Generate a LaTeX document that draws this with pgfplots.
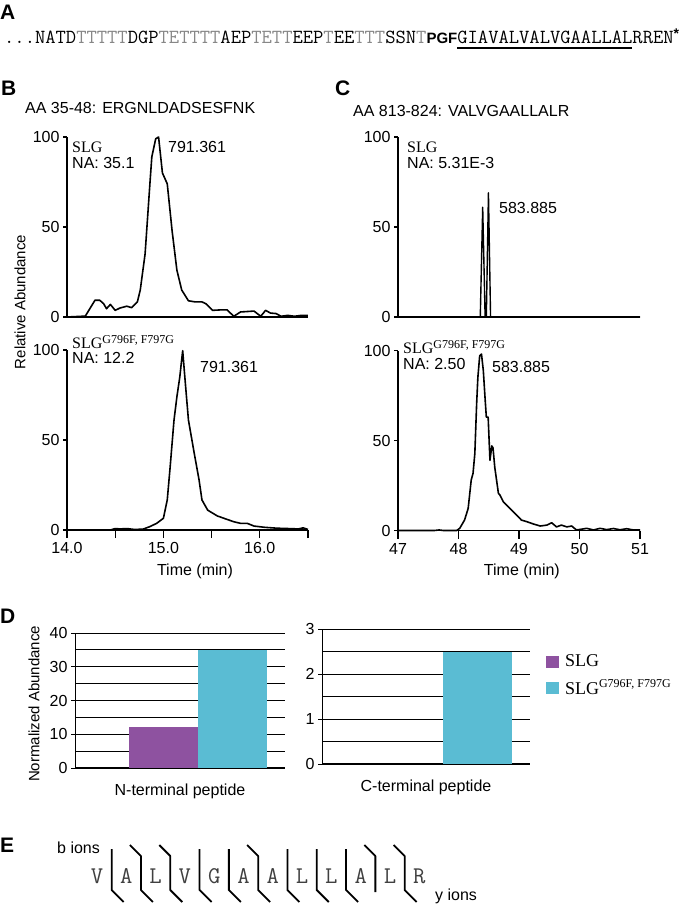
\documentclass[border=0pt]{standalone}
\usepackage{fontspec}
\setmainfont{Liberation Sans}
\newfontfamily\serif{Liberation Serif}
\usepackage{pgfplots}
\pgfplotsset{compat=1.18}
\definecolor{slgpurple}{RGB}{142,82,160}
\definecolor{slgcyan}{RGB}{90,188,211}
\definecolor{seqgray}{RGB}{135,135,135}
\newcommand\fs[1]{\fontsize{#1}{#1}\selectfont}
\newcommand\gr[1]{\textcolor{seqgray}{#1}}
\newlength\seqch
\pgfplotsset{
 chrom/.style={
  scale only axis, width=241pt, height=180pt,
  axis lines*=left, ymin=0, ymax=100, ytick={0,50,100},
  tick align=outside, major tick length=4pt,
  axis line style={line width=1.8pt},
  every tick/.style={black, line width=1.3pt},
  tick label style={font=\fs{16}},
  /pgf/number format/assume math mode=true,
  clip=false,
 },
 trace/.style={black, line width=1.6pt, line join=round},
 barax/.style={
  scale only axis, height=135pt,
  axis lines*=left, tick align=outside, major tick length=4pt, minor tick length=0pt,
  x axis line style={line width=1.8pt}, y axis line style={line width=1pt},
  every tick/.style={black, line width=1pt},
  xtick style={draw=none},
  ymajorgrids, yminorgrids,
  major grid style={black, line width=0.9pt}, minor grid style={black, line width=0.9pt},
  tick label style={font=\fs{16}},
  xticklabel style={anchor=base, yshift=-23pt},
  /pgf/number format/assume math mode=true,
 },
}
\begin{document}
\begin{tikzpicture}
\useasboundingbox (0,0) rectangle (680pt,-906pt);

% ---------- Panel A ----------
\node[anchor=base west, inner sep=0, font=\bfseries\fs{21}] at (0pt,-19pt) {A};
\node[anchor=base west, inner sep=0] at (4pt,-43pt) {\ttfamily\fs{20}\settowidth\seqch{A}...NATD\gr{TTTTT}DGP\gr{TETTTT}AEP\gr{TETT}EEP\gr{T}EE\gr{TTT}SSN\gr{T}\makebox[3\seqch][c]{\normalfont\bfseries\fs{15}PGF}\rlap{\rule[-5.5pt]{17\seqch}{2pt}}GIAVALVALVGAALLALRREN\raisebox{5pt}{\normalfont\bfseries\fs{14}*}};

% ---------- Panel B / C labels ----------
\node[anchor=base west, inner sep=0, font=\bfseries\fs{21}] at (1pt,-95pt) {B};
\node[anchor=base west, inner sep=0, font=\fs{16}] at (25pt,-113pt) {AA 35-48: ERGNLDADSESFNK};
\node[anchor=base west, inner sep=0, font=\bfseries\fs{21}] at (335pt,-95pt) {C};
\node[anchor=base west, inner sep=0, font=\fs{16}] at (353pt,-116pt) {AA 813-824: VALVGAALLALR};
\node[rotate=90, inner sep=0, font=\fs{15}] at (20pt,-302pt) {Relative Abundance};

% upper B
\begin{axis}[chrom, at={(67pt,-317pt)}, anchor=south west, xmin=14, xmax=16.5, xtick=\empty]
\addplot[trace] table {
14.00 0
14.19 0.5
14.29 9.3
14.34 9.3
14.38 7.4
14.41 4.6
14.45 7.0
14.50 3.7
14.55 5.0
14.62 6.0
14.67 5.2
14.73 8.4
14.76 15
14.81 35
14.86 74
14.88 89
14.92 99
14.95 100
14.99 80
15.04 74
15.09 48
15.14 26
15.19 15
15.26 9
15.33 8.4
15.40 8.4
15.44 7.4
15.51 3.7
15.61 4
15.66 4
15.73 0.4
15.80 2.8
15.94 3.3
16.01 0.4
16.06 3.7
16.11 2.2
16.17 1.9
16.22 0.4
16.29 0.9
16.36 0.4
16.43 0.9
16.50 0.9
};
\end{axis}
\node[anchor=base west, inner sep=0, font=\serif\fs{16}] at (72pt,-152pt) {SLG};
\node[anchor=base west, inner sep=0, font=\fs{16}] at (72pt,-168pt) {NA: 35.1};
\node[anchor=base west, inner sep=0, font=\fs{16}] at (168pt,-152pt) {791.361};

% lower B
\begin{axis}[chrom, at={(67pt,-530pt)}, anchor=south west, xmin=14, xmax=16.5,
  xtick=\empty,
  extra x ticks={14,14.5,15,15.5,16,16.5}, extra x tick labels={14.0,,15.0,,16.0,},
  extra x tick style={major tick length=8pt, xticklabel style={yshift=-1pt}},
  xlabel={Time (min)}, xlabel style={at={(axis description cs:0.531,0)}, anchor=base, yshift=-45pt, font=\fs{16}}]
\addplot[trace] table {
14.00 0
14.45 0
14.50 0.8
14.55 0.6
14.62 0.8
14.70 0.3
14.79 0.5
14.86 1.9
14.93 3.7
15.00 6.5
15.04 16.7
15.07 35
15.11 61
15.14 74
15.17 85
15.20 99.6
15.23 80
15.26 61
15.32 42.6
15.37 27.8
15.40 16.7
15.46 11
15.56 7.8
15.66 5.9
15.73 4.6
15.80 3.7
15.87 3.7
15.94 2.2
16.05 1.5
16.18 1.0
16.30 0.8
16.40 0.6
16.45 1.2
16.50 0.3
};
\end{axis}
\node[anchor=base west, inner sep=0, font=\serif\fs{16}] at (72pt,-348pt) {SLG\raisebox{5pt}{\fs{12}G796F, F797G}};
\node[anchor=base west, inner sep=0, font=\fs{16}] at (72pt,-363pt) {NA: 12.2};
\node[anchor=base west, inner sep=0, font=\fs{16}] at (200pt,-372pt) {791.361};

% upper C
\begin{axis}[chrom, width=242pt, at={(398pt,-317pt)}, anchor=south west, xmin=47, xmax=51, xtick=\empty]
\addplot[trace, line width=1.4pt] table {
47.00 0
48.36 0
48.40 61
48.44 0
48.46 0
48.495 69
48.53 0
51.00 0
};
\end{axis}
\node[anchor=base west, inner sep=0, font=\serif\fs{16}] at (407pt,-152pt) {SLG};
\node[anchor=base west, inner sep=0, font=\fs{16}] at (407pt,-168pt) {NA: 5.31E-3};
\node[anchor=base west, inner sep=0, font=\fs{16}] at (499pt,-213pt) {583.885};

% lower C
\begin{axis}[chrom, width=242pt, at={(398pt,-530.5pt)}, anchor=south west, xmin=47, xmax=51,
  xtick=\empty,
  extra x ticks={47,48,49,50,51},
  extra x tick style={major tick length=8pt, xticklabel style={yshift=-1pt}},
  xlabel={Time (min)}, xlabel style={at={(axis description cs:0.512,0)}, anchor=base, yshift=-45pt, font=\fs{16}}]
\addplot[trace] table {
47.00 0
47.60 0
47.68 0.3
47.75 0
47.97 0
48.02 1.2
48.10 5.8
48.16 12.3
48.21 28
48.24 31.7
48.27 42.8
48.30 70.5
48.32 85
48.35 97
48.38 98
48.41 89
48.44 73
48.46 63
48.49 63
48.52 39
48.55 47
48.57 46
48.60 35
48.66 20.6
48.68 20
48.74 16
48.85 12.3
48.96 8.6
49.04 5.8
49.13 4.9
49.24 3.6
49.35 2.5
49.46 3.0
49.54 4.3
49.62 2.0
49.70 3.0
49.79 2.0
49.87 2.5
49.95 0.3
50.12 1.2
50.23 0.3
50.34 1.2
50.45 0.5
50.56 1.1
50.67 0.4
50.78 1.0
50.89 0.3
51.00 0.3
};
\end{axis}
\node[anchor=base west, inner sep=0, font=\serif\fs{16}] at (403pt,-353pt) {SLG\raisebox{5pt}{\fs{12}G796F, F797G}};
\node[anchor=base west, inner sep=0, font=\fs{16}] at (403pt,-369pt) {NA: 2.50};
\node[anchor=base west, inner sep=0, font=\fs{16}] at (492pt,-372pt) {583.885};

% ---------- Panel D ----------
\node[anchor=base west, inner sep=0, font=\bfseries\fs{21}] at (0pt,-623pt) {D};
\node[rotate=90, inner sep=0, font=\fs{15}] at (34pt,-704pt) {Normalized Abundance};

\begin{axis}[barax, width=210pt, at={(75pt,-768pt)}, anchor=south west,
  xmin=0, xmax=210, ymin=0, ymax=40,
  ytick={0,10,20,30,40}, minor ytick={5,15,25,35},
  xtick={105}, xticklabels={N-terminal peptide}]
\addplot[ybar, bar width=69, bar shift=0pt, fill=slgpurple, draw=none] coordinates {(88,12.2)};
\addplot[ybar, bar width=69, bar shift=0pt, fill=slgcyan, draw=none] coordinates {(157.5,35.1)};
\end{axis}

\begin{axis}[barax, width=208pt, at={(322pt,-764pt)}, anchor=south west,
  xmin=0, xmax=208, ymin=0, ymax=3,
  ytick={0,1,2,3}, minor ytick={0.5,1.5,2.5},
  xtick={104}, xticklabels={C-terminal peptide},
  legend style={at={(1.077,0.807)}, anchor=north west, draw=none, fill=none,
    inner sep=0pt, outer sep=0pt, row sep=11pt, column sep=6pt,
    font=\serif\fs{18}, nodes={inner sep=0pt}},
  legend cell align=left,
  legend image code/.code={\fill[#1] (0pt,-6pt) rectangle (13pt,6pt);}]
\addlegendimage{draw=none, fill=slgpurple}
\addlegendentry{SLG}
\addlegendimage{draw=none, fill=slgcyan}
\addlegendentry{SLG\raisebox{7pt}{\fs{12}G796F, F797G}}
\addplot[ybar, bar width=69, bar shift=0pt, fill=slgcyan, draw=none, forget plot] coordinates {(155.5,2.5)};
\end{axis}

% ---------- Panel E ----------
\node[anchor=base west, inner sep=0, font=\bfseries\fs{21}] at (0pt,-852pt) {E};
\node[anchor=base west, inner sep=0, font=\fs{16}] at (57pt,-853pt) {b ions};
\node[anchor=base west, inner sep=0, font=\fs{16}] at (435pt,-900pt) {y ions};
\foreach \c [count=\i from 0] in {V,A,L,V,G,A,A,L,L,A,L,R} {
  \node[anchor=base, inner sep=0, font=\ttfamily\fs{24}, text=black!75] at ({97pt+29.3pt*\i},-883pt) {\c};
}
\foreach \i in {0,3,4,6,7,8} {
  \draw[line width=1.8pt] ({111.65pt+29.3pt*\i},-849pt) -- ({111.65pt+29.3pt*\i},-890pt) -- ({123.65pt+29.3pt*\i},-902pt);
}
\foreach \i in {1,2,5,10} {
  \draw[line width=1.8pt, line join=round] ({100.65pt+29.3pt*\i},-845pt) -- ({111.65pt+29.3pt*\i},-856pt) -- ({111.65pt+29.3pt*\i},-890pt) -- ({123.65pt+29.3pt*\i},-902pt);
}
\foreach \i in {9} {
  \draw[line width=1.8pt, line join=round] ({100.65pt+29.3pt*\i},-845pt) -- ({111.65pt+29.3pt*\i},-856pt) -- ({111.65pt+29.3pt*\i},-892pt);
}
\end{tikzpicture}
\end{document}
